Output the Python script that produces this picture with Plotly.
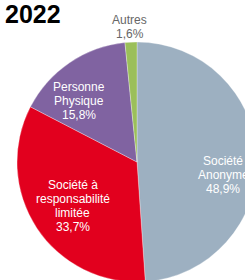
import math
import plotly.graph_objects as go

labels = ["Société Anonyme", "Société à responsabilité limitée", "Personne Physique", "Autres"]
label_lines = [["Société", "Anonyme"], ["Société à", "responsabilité", "limitée"], ["Personne", "Physique"], ["Autres"]]
values = [48.9, 33.7, 15.8, 1.6]
title = "2022"

colors = ["#9db0c1", "#e2001e", "#8063a1", "#9bbf5a"]
text_colors = ["#ffffff", "#ffffff", "#ffffff", "#666666"]
# label placement: radial fraction of radius, angular tweak (deg)
label_radius = [0.725, 0.65, 0.70, 1.125]
label_angle_shift = [10.6, -1.2, -9.4, -0.3]

FONT = "Liberation Sans, Arial, Helvetica, sans-serif"
W, H = 262, 285
cx, cy, r = 137, 162, 120
LINE = 14

fig = go.Figure(go.Pie(
    labels=labels,
    values=values,
    sort=False,
    direction="clockwise",
    rotation=0,
    marker=dict(colors=colors, line=dict(color="rgba(255,255,255,0.6)", width=0.5)),
    textinfo="none",
    hoverinfo="skip",
    showlegend=False,
    domain=dict(x=[(cx - r) / W, (cx + r) / W], y=[(H - cy - r) / H, (H - cy + r) / H]),
))

annotations = []
total = sum(values)
cum = 0.0
for i, v in enumerate(values):
    mid = (cum + v / 2) / total * 360 + label_angle_shift[i]
    cum += v
    a = math.radians(mid)
    px = cx + label_radius[i] * r * math.sin(a)
    py = cy - label_radius[i] * r * math.cos(a)
    lines = label_lines[i] + [f"{v:.1f}".replace(".", ",") + "%"]
    n = len(lines)
    for j, t in enumerate(lines):
        annotations.append(dict(
            text=t, x=px / W, y=1 - py / H, xref="paper", yref="paper",
            xanchor="center", yanchor="middle", showarrow=False,
            yshift=-(j - (n - 1) / 2) * LINE,
            font=dict(size=12, color=text_colors[i], family=FONT),
        ))

annotations.append(dict(text="<b>" + title + "</b>", x=0, y=1, xref="paper", yref="paper",
                        xanchor="left", yanchor="top", xshift=3, yshift=2, showarrow=False,
                        font=dict(size=25, color="#000000", family=FONT)))

fig.update_layout(
    width=W, height=H,
    margin=dict(l=0, r=0, t=0, b=0),
    paper_bgcolor="white",
    annotations=annotations,
)

fig.write_html("out.html", config={"displayModeBar": False},
               post_script="document.body.style.margin='0';document.body.style.overflow='hidden';document.documentElement.style.overflow='hidden';")
